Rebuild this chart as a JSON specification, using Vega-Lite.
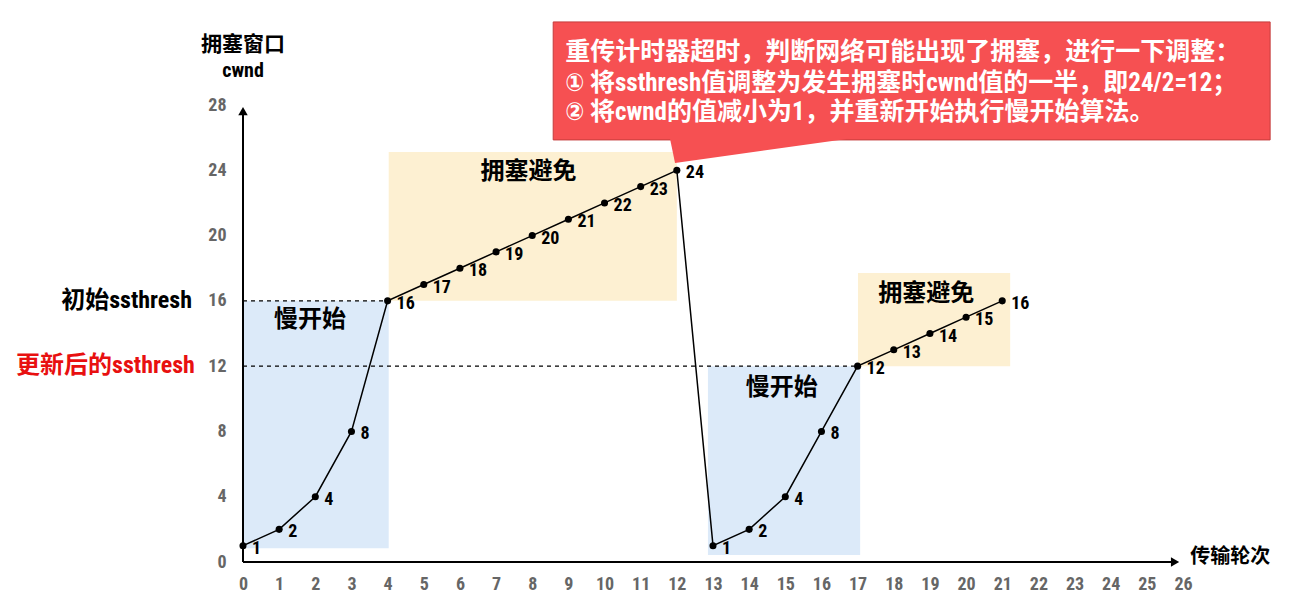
{
  "$schema": "https://vega.github.io/schema/vega-lite/v6.json",
  "width": 940,
  "height": 457,
  "autosize": {"type": "none"},
  "padding": {"left": 243, "top": 105, "right": 113, "bottom": 46},
  "background": "white",
  "config": {
    "view": {"stroke": null},
    "font": "Roboto Condensed, DejaVu Sans Condensed, Liberation Sans, Noto Sans CJK SC"
  },
  "resolve": {"scale": {"color": "independent"}},
  "datasets": {
    "bands": [
      {"x": 0, "x2": 4.03, "y": 0.85, "y2": 16, "phase": "慢开始"},
      {"x": 4.03, "x2": 12.0, "y": 16, "y2": 25.12, "phase": "拥塞避免"},
      {"x": 12.86, "x2": 17.07, "y": 0.43, "y2": 12, "phase": "慢开始"},
      {"x": 17.01, "x2": 21.22, "y": 12, "y2": 17.71, "phase": "拥塞避免"}
    ],
    "thresh": [
      {"x": 0, "x2": 4, "y": 16},
      {"x": 0, "x2": 17, "y": 12}
    ],
    "axesLines": [
      {"x": 0, "x2": 25.7, "y": 0, "y2": 0},
      {"x": 0, "x2": 0, "y": 0, "y2": 27.5}
    ],
    "arrows": [
      {"x": 25.78, "y": 0, "dir": "right"},
      {"x": 0, "y": 27.62, "dir": "up"}
    ],
    "cwnd": [
      {"x": 0, "y": 1}, {"x": 1, "y": 2}, {"x": 2, "y": 4}, {"x": 3, "y": 8},
      {"x": 4, "y": 16}, {"x": 5, "y": 17}, {"x": 6, "y": 18}, {"x": 7, "y": 19},
      {"x": 8, "y": 20}, {"x": 9, "y": 21}, {"x": 10, "y": 22}, {"x": 11, "y": 23},
      {"x": 12, "y": 24}, {"x": 13, "y": 1}, {"x": 14, "y": 2}, {"x": 15, "y": 4},
      {"x": 16, "y": 8}, {"x": 17, "y": 12}, {"x": 18, "y": 13}, {"x": 19, "y": 14},
      {"x": 20, "y": 15}, {"x": 21, "y": 16}
    ],
    "phaseLabels": [
      {"x": 1.85, "y": 14.8, "text": "慢开始"},
      {"x": 7.9, "y": 23.9, "text": "拥塞避免"},
      {"x": 14.9, "y": 10.65, "text": "慢开始"},
      {"x": 18.9, "y": 16.4, "text": "拥塞避免"}
    ],
    "threshLabels": [
      {"x": -1.41, "y": 16, "text": "初始ssthresh", "kind": "初始"},
      {"x": -1.33, "y": 12, "text": "更新后的ssthresh", "kind": "更新"}
    ],
    "yTitleCn": [
      {"x": 0, "y": 31.7, "text": "拥塞窗口"}
    ],
    "yTitleEn": [
      {"x": 0, "y": 30.1, "text": "cwnd"}
    ],
    "xTitle": [
      {"x": 26.2, "y": 0.3, "text": "传输轮次"}
    ],
    "callout": [
      {"x": 8.58, "x2": 28.41, "y": 25.86, "y2": 33.09}
    ],
    "pointer": [
      {"y": 25.95, "x": 11.81, "x2": 16.79},
      {"y": 24.45, "x": 11.95, "x2": 11.95}
    ],
    "calloutText": [
      {"x": 8.91, "y": 31.25, "text": "重传计时器超时，判断网络可能出现了拥塞，进行一下调整："},
      {"x": 8.91, "y": 29.35, "text": "① 将ssthresh值调整为发生拥塞时cwnd值的一半，即24/2=12；"},
      {"x": 8.91, "y": 27.57, "text": "② 将cwnd的值减小为1，并重新开始执行慢开始算法。"}
    ]
  },
  "encoding": {
    "x": {
      "field": "x", "type": "quantitative",
      "scale": {"domain": [0, 26], "nice": false, "zero": false},
      "axis": {
        "values": [0,1,2,3,4,5,6,7,8,9,10,11,12,13,14,15,16,17,18,19,20,21,22,23,24,25,26],
        "title": null, "domain": false, "ticks": false, "grid": false,
        "labelFontSize": 18, "labelFontWeight": "bold", "labelColor": "#666666",
        "labelPadding": 13, "labelFlush": false, "labelOverlap": false
      }
    },
    "y": {
      "field": "y", "type": "quantitative",
      "scale": {"domain": [0, 28], "nice": false, "zero": false},
      "axis": {
        "values": [0, 4, 8, 12, 16, 20, 24, 28],
        "title": null, "domain": false, "ticks": false, "grid": false,
        "labelFontSize": 18, "labelFontWeight": "bold", "labelColor": "#666666",
        "labelPadding": 17, "labelFlush": false, "labelOverlap": false
      }
    }
  },
  "layer": [
    {
      "data": {"name": "bands"},
      "mark": {"type": "rect", "clip": false},
      "encoding": {
        "x2": {"field": "x2"},
        "y2": {"field": "y2"},
        "fill": {
          "field": "phase", "type": "nominal", "legend": null,
          "scale": {"domain": ["慢开始", "拥塞避免"], "range": ["#DCEAF9", "#FDF0D2"]}
        }
      }
    },
    {
      "data": {"name": "thresh"},
      "mark": {"type": "rule", "color": "#000000", "strokeWidth": 1.2, "strokeDash": [4, 4]},
      "encoding": {"x2": {"field": "x2"}}
    },
    {
      "data": {"name": "axesLines"},
      "mark": {"type": "rule", "color": "#000000", "strokeWidth": 2, "clip": false},
      "encoding": {"x2": {"field": "x2"}, "y2": {"field": "y2"}}
    },
    {
      "data": {"name": "arrows"},
      "mark": {"type": "point", "filled": true, "color": "#000000", "size": 90, "opacity": 1, "clip": false},
      "encoding": {
        "shape": {
          "field": "dir", "type": "nominal", "legend": null,
          "scale": {"domain": ["right", "up"], "range": ["triangle-right", "triangle-up"]}
        }
      }
    },
    {
      "data": {"name": "cwnd"},
      "mark": {"type": "line", "color": "#000000", "strokeWidth": 1.5},
      "encoding": {"order": {"field": "x", "type": "quantitative"}}
    },
    {
      "data": {"name": "cwnd"},
      "mark": {"type": "point", "filled": true, "color": "#000000", "size": 50, "opacity": 1}
    },
    {
      "data": {"name": "cwnd"},
      "mark": {"type": "text", "align": "left", "baseline": "middle", "dx": 9, "dy": 3, "fontSize": 18, "fontWeight": "bold", "color": "#000000"},
      "encoding": {"text": {"field": "y", "type": "quantitative"}}
    },
    {
      "data": {"name": "phaseLabels"},
      "mark": {"type": "text", "align": "center", "baseline": "middle", "fontSize": 24, "fontWeight": "bold", "color": "#000000", "font": "Noto Sans CJK SC"},
      "encoding": {"text": {"field": "text"}}
    },
    {
      "data": {"name": "threshLabels"},
      "mark": {"type": "text", "align": "right", "baseline": "middle", "fontSize": 24, "fontWeight": "bold", "clip": false},
      "encoding": {
        "text": {"field": "text"},
        "color": {
          "field": "kind", "type": "nominal", "legend": null,
          "scale": {"domain": ["初始", "更新"], "range": ["#000000", "#E81010"]}
        }
      }
    },
    {
      "data": {"name": "yTitleCn"},
      "mark": {"type": "text", "align": "center", "baseline": "middle", "fontSize": 21, "fontWeight": "bold", "color": "#000000", "clip": false},
      "encoding": {"text": {"field": "text"}}
    },
    {
      "data": {"name": "yTitleEn"},
      "mark": {"type": "text", "align": "center", "baseline": "middle", "fontSize": 20, "fontWeight": "bold", "color": "#000000", "clip": false},
      "encoding": {"text": {"field": "text"}}
    },
    {
      "data": {"name": "xTitle"},
      "mark": {"type": "text", "align": "left", "baseline": "middle", "fontSize": 20, "fontWeight": "bold", "color": "#000000", "clip": false},
      "encoding": {"text": {"field": "text"}}
    },
    {
      "data": {"name": "callout"},
      "mark": {"type": "rect", "fill": "#F65052", "stroke": "#C43C3C", "strokeWidth": 1, "clip": false},
      "encoding": {"x2": {"field": "x2"}, "y2": {"field": "y2"}}
    },
    {
      "data": {"name": "pointer"},
      "mark": {"type": "area", "orient": "horizontal", "color": "#F65052", "opacity": 1, "clip": false},
      "encoding": {"x2": {"field": "x2"}}
    },
    {
      "data": {"name": "calloutText"},
      "mark": {"type": "text", "align": "left", "baseline": "middle", "fontSize": 25, "fontWeight": "bold", "color": "#FFFFFF", "clip": false},
      "encoding": {"text": {"field": "text"}}
    }
  ]
}
